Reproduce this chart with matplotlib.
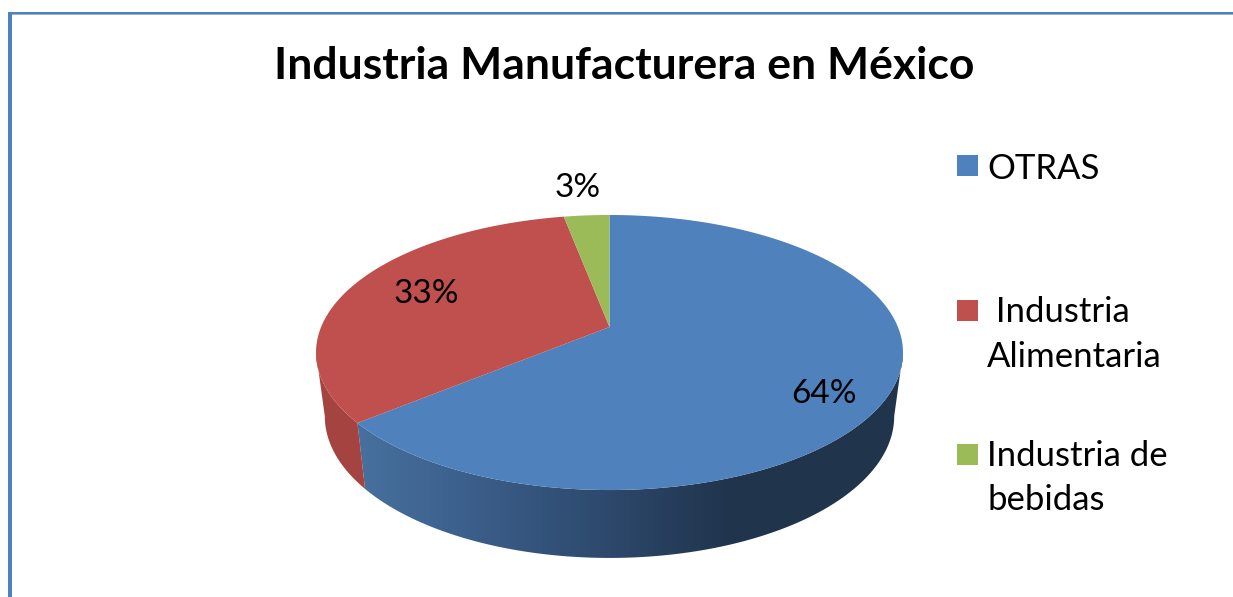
import numpy as np
import matplotlib.pyplot as plt
from matplotlib.colors import LinearSegmentedColormap
from matplotlib.patches import Polygon, Rectangle

# Datos de la gráfica
titulo = 'Industria Manufacturera en México'
categorias = ['OTRAS', ' Industria\nAlimentaria', 'Industria de\nbebidas']
valores = [64, 33, 3]
colores = ['#4f81bd', '#c0504d', '#9bbb59']

plt.rcParams['font.family'] = ['Lato', 'DejaVu Sans']

# Geometria del pastel, en pixeles de la figura
cx, cy = 609.5, 327.0
a, b, k = 288.4, 132.8, 0.1855
esc_x, esc_y, fondo = 0.97, 1.03, 63.0


# Punto del borde para un angulo medido desde el norte, en sentido horario
def borde(theta, inferior=False):
    x = np.sin(theta)
    y = np.cos(theta)
    w = 1 + k * y
    px = a * x / w
    py = b * y / w
    if inferior:
        return cx + esc_x * px, cy + fondo - esc_y * py
    return cx + px, cy - py


def pared(t0, t1):
    t = np.linspace(t0, t1, 200)
    xs, ys = borde(t)
    xi, yi = borde(t[::-1], inferior=True)
    return np.column_stack([np.r_[xs, xi], np.r_[ys, yi]])


fig = plt.figure(figsize=(12.33, 5.97), dpi=100, facecolor='white')
ax = fig.add_axes([0, 0, 1, 1])

# Marco azul superior e izquierdo
ax.add_patch(Rectangle((8, 12), 4, 585, color='#4f81bd', lw=0))
ax.add_patch(Rectangle((8, 12), 1225, 2.2, color='#4f81bd', lw=0))
ax.add_patch(Rectangle((12, 14.2), 1221, 1, color='#95b3d7', lw=0))

# Angulos de cada rebanada, a partir de los valores
fracciones = np.cumsum([0] + valores) / sum(valores) * 2 * np.pi
extremo = np.arccos(-k)  # donde el borde alcanza su maximo ancho

# Pared lateral con degradado
grad_azul = LinearSegmentedColormap.from_list('azul', [
    (0.0, '#47719f'), (0.2, '#3c5f8b'), (0.44, '#2e4a6e'),
    (0.68, '#20344c'), (1.0, '#20344c')])
pared_azul = Polygon(pared(fracciones[1], extremo), closed=True, transform=ax.transData, lw=0, fill=False)
ax.add_patch(pared_azul)
img = ax.imshow(np.linspace(0, 1, 256).reshape(1, -1), cmap=grad_azul, extent=[355, 910, 600, 340], aspect='auto', zorder=1.5)
img.set_clip_path(pared_azul)
ax.add_patch(Polygon(pared(fracciones[1], 2 * np.pi - extremo), closed=True, color='#a4433f', lw=0, zorder=1.5))

# Cara superior de cada rebanada
for i in range(len(valores)):
    t = np.linspace(fracciones[i], fracciones[i + 1], 300)
    xs, ys = borde(t)
    ax.add_patch(Polygon(np.column_stack([np.r_[cx, xs], np.r_[cy, ys]]), closed=True,
                         color=colores[i], lw=0, zorder=2))

# Porcentajes sobre el pastel
pos_etiquetas = [(824, 394), (426, 294), (578, 188)]
for v, (x, y) in zip(valores, pos_etiquetas):
    ax.text(x, y, f'{v}%', fontsize=24, ha='center', va='center', color='black', zorder=3)

# Titulo
ax.text(624.5, 66, titulo, fontsize=32, fontweight='bold', ha='center', va='center', color='black')

# Leyenda
pos_caja = [165.5, 310.5, 454.5]
pos_leyenda = [169, 334.5, 478]
for cat, col, yc, y in zip(categorias, colores, pos_caja, pos_leyenda):
    ax.add_patch(Rectangle((957, yc - 10.5), 21, 21, color=col, lw=0))
    ax.text(987, y, cat, fontsize=25, ha='left', va='center', color='black', linespacing=1.5)

ax.set_xlim(0, 1233)
ax.set_ylim(597, 0)
ax.axis('off')

plt.savefig('out.png', dpi=100)
